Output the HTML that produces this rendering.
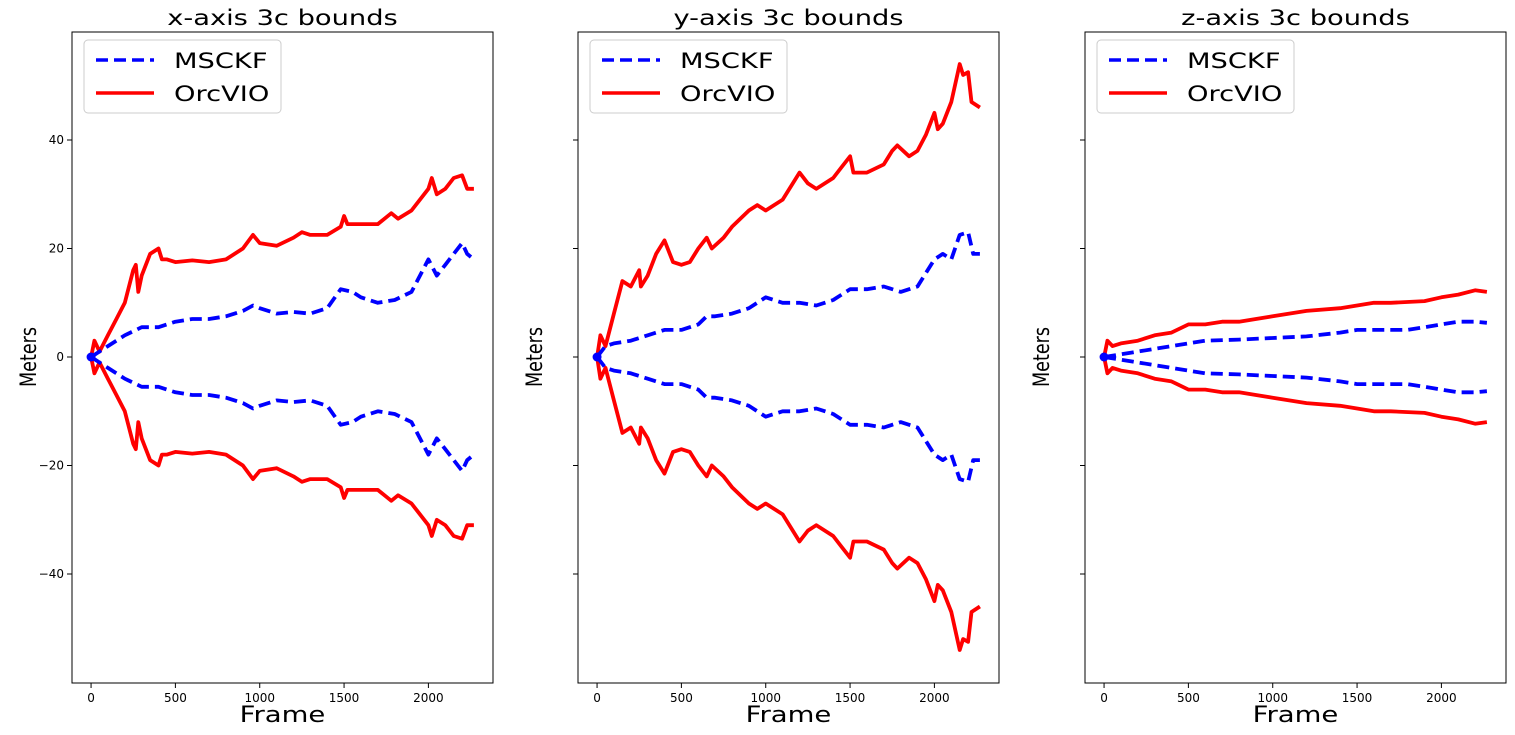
<!DOCTYPE html>
<html><head><meta charset="utf-8"><style>
body{margin:0;background:#fff;}
svg text{font-family:"DejaVu Sans","Liberation Sans",sans-serif;}
</style></head><body>
<svg id="chart" width="1515" height="730" xmlns="http://www.w3.org/2000/svg"></svg>
<script>
const frameX_orc=[0,20,50,100,150,200,250,265,280,300,350,400,420,450,500,600,700,800,900,960,1000,1100,1200,1250,1300,1400,1480,1500,1520,1600,1700,1780,1820,1900,2000,2020,2050,2100,2150,2200,2230,2270];
const valX_orc=[0,3,1,4,7,10,16,17,12,15,19,20,18,18,17.5,17.8,17.5,18,20,22.5,21,20.5,22,23,22.5,22.5,24,26,24.5,24.5,24.5,26.5,25.5,27,31,33,30,31,33,33.5,31,31];
const frameX_ms=[0,100,200,300,400,500,600,700,800,900,960,1000,1100,1200,1300,1400,1480,1550,1600,1700,1800,1900,2000,2050,2100,2150,2200,2230,2270];
const valX_ms=[0,2,4,5.5,5.5,6.5,7,7,7.5,8.5,9.5,9,8,8.3,8,9,12.5,12,11,10,10.5,12,18,15,17,19,21,19,18];
const frameY_orc=[0,20,50,100,150,200,250,260,300,350,400,450,500,550,600,650,680,750,800,900,950,1000,1100,1200,1250,1300,1400,1450,1500,1520,1600,1700,1750,1780,1850,1900,1950,2000,2020,2050,2100,2150,2170,2200,2220,2270];
const valY_orc=[0,4,2,8,14,13,16,13,15,19,21.5,17.5,17,17.5,20,22,20,22,24,27,28,27,29,34,32,31,33,35,37,34,34,35.5,38,39,37,38,41,45,42,43,47,54,52,52.5,47,46];
const frameY_ms=[0,50,100,200,300,400,500,600,650,700,800,900,1000,1100,1200,1300,1400,1500,1600,1700,1800,1900,2000,2050,2100,2150,2200,2230,2270];
const valY_ms=[0,2,2.5,3,4,5,5,6,7.5,7.5,8,9,11,10,10,9.5,10.5,12.5,12.5,13,12,13,18,19,18,22.5,23,19,19];
const frameZ_orc=[0,20,50,100,200,300,400,500,600,700,800,900,1000,1200,1400,1500,1600,1700,1900,2000,2100,2200,2270];
const valZ_orc=[0,3,2,2.5,3,4,4.5,6,6,6.5,6.5,7,7.5,8.5,9,9.5,10,10,10.3,11,11.5,12.3,12];
const frameZ_ms=[0,200,400,600,800,1000,1200,1400,1500,1600,1800,1900,2000,2100,2200,2270];
const valZ_ms=[0,1,2,3,3.2,3.5,3.8,4.5,5,5,5,5.5,6,6.5,6.5,6.3];
const titles=["x-axis 3c bounds","y-axis 3c bounds","z-axis 3c bounds"];
const xTicks=[0,500,1000,1500,2000];
const yTicks=[-40,-20,0,20,40];
const panels=[[frameX_orc,valX_orc,frameX_ms,valX_ms],[frameY_orc,valY_orc,frameY_ms,valY_ms],[frameZ_orc,valZ_orc,frameZ_ms,valZ_ms]];
const lefts=[72,578,1085];
const W=421,plotTop=32,plotBot=683;
const svg=document.getElementById('chart');
const NS="http://www.w3.org/2000/svg";
function mk(t,a,p){const e=document.createElementNS(NS,t);for(const k in a)e.setAttribute(k,a[k]);(p||svg).appendChild(e);return e;}
panels.forEach((p,i)=>{
 const L=lefts[i];
 const g=mk('g',{});
 
 
 const sx=v=>L+(v+113)/(2496)*W;
 const sy=v=>357-v*5.425;
 const path=(fs,vs,s)=>fs.map((f,j)=>(j?'L':'M')+sx(f).toFixed(1)+','+sy(s*vs[j]).toFixed(1)).join('');
 [[p[0],p[1],'#f00','none','orcvio'],[p[2],p[3],'#00f','12,6','msckf']].forEach(([fs,vs,c,d,n])=>{
  [1,-1].forEach(s=>{
   const e=mk('path',{d:path(fs,vs,s),fill:'none',stroke:c,'stroke-width':3.8,'stroke-dasharray':d,'stroke-linejoin':'round'},g);
   
   
  });
 });
 const dot=mk('circle',{cx:sx(0),cy:sy(0),r:4.5,fill:'#00f'},g);
 
 
 const fr=mk('rect',{x:L,y:plotTop,width:W,height:plotBot-plotTop,fill:'none',stroke:'#000','stroke-width':1},g);
 
 
 xTicks.forEach(t=>{
  mk('line',{x1:sx(t),x2:sx(t),y1:plotBot,y2:plotBot+5,stroke:'#000'},g);
  const tx=mk('text',{x:sx(t),y:plotBot+19,'font-size':12,'text-anchor':'middle'},g);tx.textContent=t;
  
  
 });
 yTicks.forEach(t=>{
  mk('line',{x1:L-5,x2:L,y1:sy(t),y2:sy(t),stroke:'#000'},g);
  if(i===0){const tx=mk('text',{x:L-8,y:sy(t)+4,'font-size':12,'text-anchor':'end'},g);tx.textContent=t<0?'\u2212'+(-t):t;
  
  }
 });
 const ti=mk('text',{x:0,y:0,'font-size':21,'text-anchor':'middle',transform:`translate(${L+W/2},25) scale(1.3,1)`},g);ti.textContent=titles[i];
 
 
 const xl=mk('text',{x:0,y:0,'font-size':22,'text-anchor':'middle',transform:`translate(${L+W/2},722) scale(1.25,1)`},g);xl.textContent='Frame';
 
 
 const yl=mk('text',{x:0,y:0,'font-size':22,'text-anchor':'middle',transform:`translate(${L-36},357) rotate(-90) scale(0.8,1)`},g);yl.textContent='Meters';
 
 
 const lg=mk('g',{},g);
 
 
 mk('rect',{x:L+12,y:40,width:197,height:73,rx:4,fill:'#fff',stroke:'#ccc'},lg);
 mk('line',{x1:L+24,x2:L+82,y1:60,y2:60,stroke:'#00f','stroke-width':3.5,'stroke-dasharray':'12,6'},lg);
 mk('line',{x1:L+24,x2:L+82,y1:93,y2:93,stroke:'#f00','stroke-width':3.5},lg);
 const t1=mk('text',{x:0,y:0,'font-size':21,transform:`translate(${L+102},68) scale(1.3,1)`},lg);t1.textContent='MSCKF';
 
 
 const t2=mk('text',{x:0,y:0,'font-size':21,transform:`translate(${L+102},101) scale(1.3,1)`},lg);t2.textContent='OrcVIO';
 
 
});
</script>
</body></html>
